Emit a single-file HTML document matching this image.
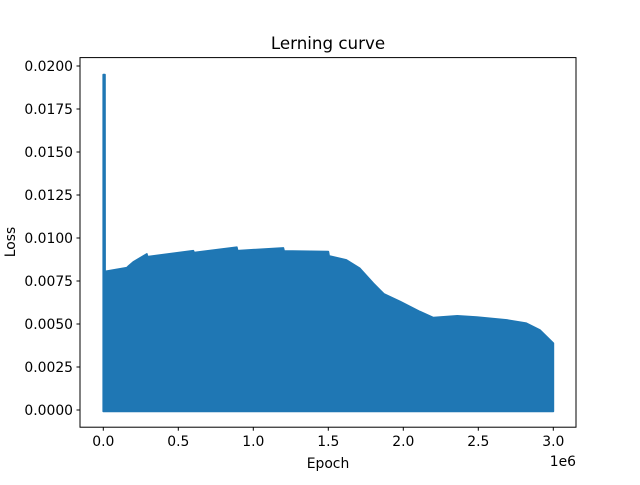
<!DOCTYPE html>
<html><head><meta charset="utf-8"><style>
body{margin:0;background:#fff;}
svg text{font-family:"DejaVu Sans","Liberation Sans",sans-serif;fill:#000;}
</style></head><body>
<svg id="chart" width="640" height="480" xmlns="http://www.w3.org/2000/svg">
<rect width="640" height="480" fill="#fff"/>
<text x="328" y="49" font-size="16.7" text-anchor="middle">Lerning curve</text>
<g id="plot"></g>
<rect x="80" y="57.6" width="496" height="369.6" fill="none" stroke="#000" stroke-width="1"/>
<g id="xt"></g>
<g id="yt"></g>
<text x="328" y="468" font-size="13.9" text-anchor="middle">Epoch</text>
<text x="576" y="466" font-size="13.9" text-anchor="end">1e6</text>
<text transform="translate(15,242) rotate(-90)" font-size="13.9" text-anchor="middle">Loss</text>
</svg>
<script>
const epochs = [0, 0.01, 0.156, 0.2, 0.29, 0.295, 0.6, 0.605, 0.89, 0.895, 1.2, 1.205, 1.5, 1.505, 1.62, 1.71, 1.8, 1.87, 1.98, 2.11, 2.2, 2.36, 2.49, 2.69, 2.82, 2.91, 3.0];
const losses = [0.0195, 0.00805, 0.00827, 0.0086, 0.00907, 0.00891, 0.00926, 0.00915, 0.00946, 0.00926, 0.00942, 0.00924, 0.00921, 0.00895, 0.00872, 0.00823, 0.00736, 0.00675, 0.0063, 0.00572, 0.00537, 0.00547, 0.0054, 0.00523, 0.00504, 0.00465, 0.00388];
const xTicks = [0, 0.5, 1.0, 1.5, 2.0, 2.5, 3.0];
const xTickLabels = ["0.0","0.5","1.0","1.5","2.0","2.5","3.0"];
const yTicks = [0, 0.0025, 0.005, 0.0075, 0.01, 0.0125, 0.015, 0.0175, 0.02];
const yTickLabels = ["0.0000","0.0025","0.0050","0.0075","0.0100","0.0125","0.0150","0.0175","0.0200"];
const NS = "http://www.w3.org/2000/svg";
function xs(v){return 103.3 + v*150;}
function ys(v){return 410 - v*17200;}
const plot = document.getElementById('plot');
let pts = [];
pts.push(xs(epochs[0])+','+ys(-0.00008));
pts.push(xs(epochs[0])+','+ys(losses[0]));
pts.push((xs(epochs[0])+1.6)+','+ys(losses[0]));
pts.push((xs(epochs[1])+0.2)+','+ys(losses[1]));
for(let i=2;i<epochs.length;i++){pts.push(xs(epochs[i])+','+ys(losses[i]));}
pts.push(xs(epochs[epochs.length-1])+','+ys(-0.00008));
const poly = document.createElementNS(NS,'polygon');


poly.setAttribute('points', pts.join(' '));
poly.setAttribute('fill', '#1f77b4');
poly.setAttribute('stroke', '#1f77b4');
poly.setAttribute('stroke-width', '1.8');
poly.setAttribute('stroke-linejoin', 'round');
plot.appendChild(poly);
const xt = document.getElementById('xt');
xTicks.forEach((t,i)=>{
  const l = document.createElementNS(NS,'line');
  
  
  l.setAttribute('x1', xs(t)); l.setAttribute('x2', xs(t));
  l.setAttribute('y1', 427.2); l.setAttribute('y2', 430.7);
  l.setAttribute('stroke', '#000');
  xt.appendChild(l);
  const tx = document.createElementNS(NS,'text');
  
  
  tx.setAttribute('x', xs(t)); tx.setAttribute('y', 446);
  tx.setAttribute('font-size', '13.9'); tx.setAttribute('text-anchor', 'middle');
  tx.textContent = xTickLabels[i];
  xt.appendChild(tx);
});
const yt = document.getElementById('yt');
yTicks.forEach((t,i)=>{
  const l = document.createElementNS(NS,'line');
  
  
  l.setAttribute('x1', 76.5); l.setAttribute('x2', 80);
  l.setAttribute('y1', ys(t)); l.setAttribute('y2', ys(t));
  l.setAttribute('stroke', '#000');
  yt.appendChild(l);
  const tx = document.createElementNS(NS,'text');
  
  
  tx.setAttribute('x', 73); tx.setAttribute('y', ys(t)+5);
  tx.setAttribute('font-size', '13.9'); tx.setAttribute('text-anchor', 'end');
  tx.textContent = yTickLabels[i];
  yt.appendChild(tx);
});
</script>
</body></html>
